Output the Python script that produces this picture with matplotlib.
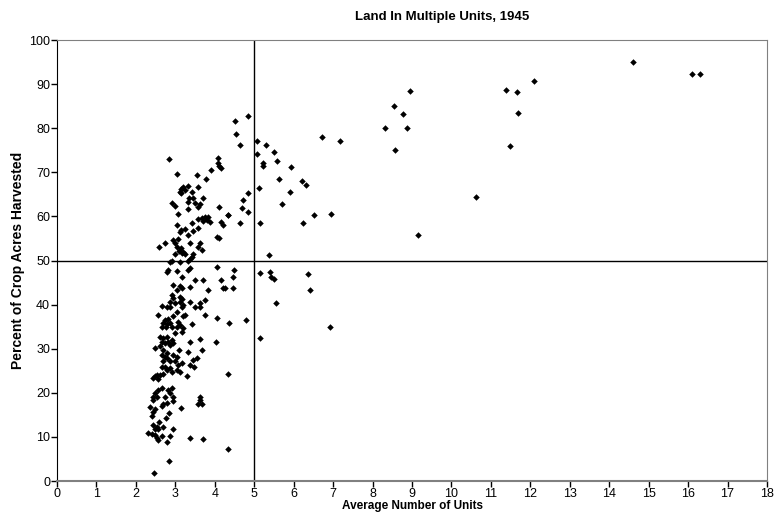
import numpy as np
import matplotlib.pyplot as plt

plt.rcParams['font.family'] = ['Liberation Sans', 'DejaVu Sans']

# average number of units (x) and percent of crop acres harvested (y)
units = [
    # right-hand outliers
    14.6, 16.1, 16.3, 12.1, 11.38, 11.66, 11.68, 11.49, 10.61, 9.14,
    8.95, 8.55, 8.77, 8.31, 8.87, 7.18, 8.57, 6.95, 6.71, 6.92, 6.36, 6.42,
    # 4.3 - 6.5
    4.83, 4.51, 4.53, 4.64, 5.08, 5.31, 5.51, 5.08, 5.23, 5.21, 5.59, 5.92,
    5.63, 6.22, 6.32, 5.13, 5.9, 4.85, 4.71, 5.7, 4.7, 4.83, 4.34, 6.52,
    4.64, 5.15, 6.24, 5.37, 4.49, 4.46, 5.15, 5.39, 5.43, 5.49, 4.45, 4.26,
    5.55, 4.78, 4.36, 5.15, 4.34, 4.33,
    # dense cluster, top part
    2.83, 4.08, 4.07, 4.11, 4.15, 3.9, 3.05, 3.54, 3.77, 3.58, 3.33, 3.2,
    3.14, 3.12, 3.25, 3.41, 3.14, 3.35, 3.46, 3.71,
    2.91, 2.99, 3.33, 3.5, 3.63, 3.58, 4.11, 3.06, 3.33, 4.34,
    3.67, 3.75, 3.84, 3.8, 3.88, 3.71, 3.58, 3.43, 4.17, 4.22, 3.05,
    3.14, 3.12, 3.25, 3.46, 3.58, 3.31, 4.06, 4.1, 3.06,
    2.95, 2.74, 2.59, 2.99, 3.03, 3.37, 3.63, 3.58, 3.67,
    3.14, 3.2, 3.1, 3.16, 2.99, 3.25, 3.46, 3.41, 3.37,
    2.91, 2.87, 3.12, 3.33, 4.06, 3.37, 3.33, 2.82, 2.78, 3.03,
    3.16, 3.5, 3.71, 4.17, 2.95, 3.12, 3.16, 3.03, 3.37, 3.84, 4.22,
    2.91, 3.12, 2.95, 3.16,
    # dense cluster, middle part
    2.87, 2.99, 3.12, 3.37, 3.63, 3.75, 2.65, 2.78, 2.87, 3.16, 3.2,
    3.5, 3.63, 3.03, 2.57, 2.93, 3.2, 3.25, 3.75, 4.05,
    2.74, 2.82, 2.69, 2.78, 2.87, 2.65, 2.76, 2.91,
    3.08, 3.12, 3.03, 3.2, 3.16, 3.43, 2.99,
    2.61, 2.69, 2.78, 2.65, 2.74, 2.82, 2.91, 2.95, 2.87, 3.37, 3.63, 4.03,
    2.48, 2.61, 2.69, 2.78, 2.65, 2.74, 3.1, 2.95, 3.03, 3.33, 3.67,
    3.54, 3.46, 2.78, 2.69, 2.87, 2.99, 3.16, 3.08, 3.37, 3.47,
    2.74, 2.87, 2.78, 2.91, 2.65, 3.03, 3.12,
    2.48, 2.44, 2.57, 2.53, 2.61, 2.69, 3.29,
    2.57, 2.48, 2.44, 2.53, 2.65, 2.91, 2.82, 2.87, 2.74, 2.95, 3.63,
    # dense cluster, bottom part
    2.44, 2.69, 2.78, 2.65, 2.95, 3.58, 3.67, 3.63, 3.14,
    2.36, 2.48, 2.44, 2.85, 2.4, 2.76, 2.59,
    2.44, 2.53, 2.48, 2.57, 2.69, 2.95,
    2.31, 2.4, 2.48, 2.65, 2.87, 2.53, 2.57, 2.78, 3.37, 3.71,
    2.85, 2.47,
]
harvested = [
    95.0, 92.3, 92.2, 90.7, 88.7, 88.1, 83.4, 76.0, 64.3, 55.7,
    88.4, 85.0, 83.2, 80.0, 80.0, 77.2, 75.1, 60.5, 78.1, 35.0, 46.9, 43.3,
    82.8, 81.7, 78.6, 76.3, 77.2, 76.2, 74.5, 74.1, 72.2, 71.4, 72.5, 71.1,
    68.5, 68.1, 67.1, 66.5, 65.5, 65.2, 63.7, 62.7, 61.8, 61.1, 60.3, 60.3,
    58.4, 58.4, 58.4, 51.3, 47.8, 46.3, 47.2, 47.3, 46.3, 45.7, 43.7, 43.7,
    40.3, 36.4, 35.9, 32.5, 24.2, 7.3,
    73.0, 73.3, 72.0, 71.5, 71.0, 70.5, 69.6, 69.4, 68.4, 66.7, 67.0, 66.6,
    66.2, 65.6, 65.9, 65.6, 65.2, 64.1, 64.1, 64.1,
    63.0, 62.4, 63.3, 63.1, 62.8, 62.2, 62.2, 60.5, 61.6, 60.3,
    59.6, 59.8, 59.9, 59.2, 58.8, 59.0, 59.4, 58.4, 58.8, 58.0, 58.0,
    56.9, 56.4, 57.1, 56.7, 57.3, 55.8, 55.3, 55.2, 54.8,
    54.6, 54.0, 53.1, 53.9, 53.1, 53.9, 53.9, 53.1, 52.4,
    52.8, 52.0, 52.2, 51.6, 51.5, 51.5, 51.5, 50.9, 50.3,
    49.9, 49.6, 49.6, 49.9, 48.6, 48.2, 47.8, 47.8, 47.5, 47.7,
    46.2, 45.6, 45.6, 45.6, 44.4, 44.3, 43.7, 43.3, 43.9, 43.3, 43.7,
    42.2, 41.8, 41.4, 41.3,
    40.7, 40.4, 40.7, 40.7, 40.3, 41.0, 39.7, 39.5, 39.4, 39.4, 39.9,
    39.5, 39.4, 38.4, 37.6, 37.4, 37.4, 37.6, 37.6, 36.9,
    36.5, 36.7, 35.8, 35.6, 35.9, 35.0, 34.9, 35.0,
    36.1, 35.4, 34.9, 34.6, 33.9, 35.6, 33.5,
    32.7, 32.4, 32.6, 31.6, 31.2, 31.6, 32.0, 31.2, 30.8, 31.6, 32.2, 31.6,
    30.1, 30.5, 29.7, 29.0, 28.6, 28.2, 29.7, 28.6, 28.2, 29.3, 29.7,
    28.0, 27.4, 27.8, 27.1, 27.3, 27.1, 26.7, 26.3, 26.3, 25.9,
    25.9, 25.6, 25.2, 24.8, 25.9, 25.2, 24.8,
    23.7, 23.3, 23.1, 24.0, 24.0, 24.3, 23.7,
    20.6, 19.9, 19.1, 19.0, 21.0, 21.0, 20.6, 20.0, 19.1, 19.0, 19.0,
    18.4, 17.5, 17.6, 17.0, 18.2, 17.5, 17.5, 18.4, 16.5,
    16.8, 16.3, 15.7, 15.4, 14.7, 14.2, 13.4,
    12.7, 12.3, 11.7, 11.9, 12.3, 11.9,
    10.9, 10.7, 10.4, 10.2, 10.2, 9.7, 9.3, 8.8, 9.8, 9.5,
    4.5, 1.9,
]

fig = plt.figure(figsize=(7.74, 5.14), dpi=100)
ax = fig.add_axes([57/774, 33/514, 710/774, 441/514])

ax.scatter(units, harvested, marker='D', s=11, color='black', linewidths=0, zorder=3)
ax.axvline(5, color='black', lw=1, zorder=2)
ax.axhline(50, color='black', lw=1, zorder=2)

ax.set_xlim(0, 18)
ax.set_ylim(0, 100)
ax.set_xticks(np.arange(0, 19, 1))
ax.set_yticks(np.arange(0, 101, 10))
ax.tick_params(labelsize=9, length=4, width=1, pad=1)

ax.spines['left'].set_color('black')
for s in ['top', 'right', 'bottom']:
    ax.spines[s].set_color('#808080')
ax.spines['bottom'].set_linewidth(1.5)

fig.text(442/774, 1 - 17/514, 'Land In Multiple Units, 1945', ha='center', va='center',
         fontsize=9.5, fontweight='bold')
ax.set_xlabel('Average Number of Units', fontsize=8.5, fontweight='bold', labelpad=0)
ax.set_ylabel('Percent of Crop Acres Harvested', fontsize=10, fontweight='bold', labelpad=3)

fig.savefig('out.png', dpi=100)
